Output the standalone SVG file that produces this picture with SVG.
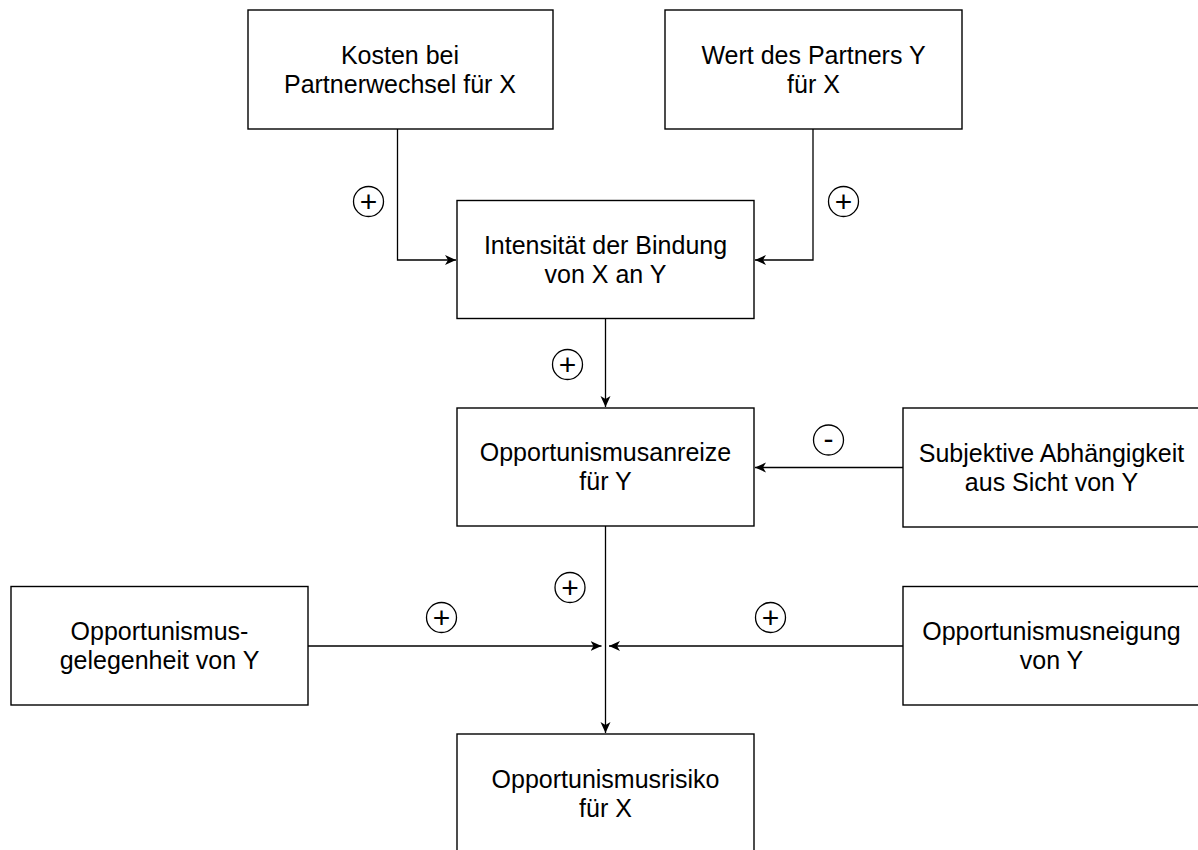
<svg xmlns="http://www.w3.org/2000/svg" width="1198" height="850" viewBox="0 0 1198 850">
  <style>
    .box { fill: #ffffff; stroke: #000000; stroke-width: 1.4; }
    .lbl { font-family: "Liberation Sans", Arial, sans-serif; font-size: 25px; fill: #000000; text-anchor: middle; }
    .edge { fill: none; stroke: #000000; stroke-width: 1.3; marker-end: url(#arrow); }
    .sign circle { fill: #ffffff; stroke: #000000; stroke-width: 1.3; }
    .sign text { font-family: "Liberation Sans", Arial, sans-serif; font-size: 30px; fill: #000000; text-anchor: middle; }
  </style>
  <defs>
    <marker id="arrow" markerUnits="userSpaceOnUse" markerWidth="14" markerHeight="12" refX="11" refY="5" orient="auto" viewBox="0 0 14 12">
      <path d="M11,5 L0,0 L3,5 L0,10 Z" fill="#000000"/>
    </marker>
  </defs>
  <rect width="1198" height="850" fill="#ffffff"/>

  <!-- connectors -->
  <g id="connectors">
    <path class="edge" d="M397.5,129 V260 H456"/>
    <path class="edge" d="M813,129 V260 H755"/>
    <path class="edge" d="M605.5,318 V407"/>
    <path class="edge" d="M903,467.5 H755"/>
    <path class="edge" d="M605.5,526 V733"/>
    <path class="edge" d="M308,646 H601.5"/>
    <path class="edge" d="M903,646 H609"/>
  </g>

  <!-- polarity markers -->
  <g id="signs" class="sign">
    <g><circle cx="368.5" cy="201.5" r="15"/><text x="368.5" y="211.5">+</text></g>
    <g><circle cx="843.5" cy="201.5" r="15"/><text x="843.5" y="211.5">+</text></g>
    <g><circle cx="567.5" cy="364.5" r="15"/><text x="567.5" y="374.5">+</text></g>
    <g><circle cx="828.5" cy="440" r="15"/><text x="828.5" y="449">-</text></g>
    <g><circle cx="570" cy="587.5" r="15"/><text x="570" y="597.5">+</text></g>
    <g><circle cx="441.5" cy="617.5" r="15"/><text x="441.5" y="627.5">+</text></g>
    <g><circle cx="770.5" cy="617.5" r="15"/><text x="770.5" y="627.5">+</text></g>
  </g>

  <!-- nodes -->
  <g id="kosten">
    <rect class="box" x="248" y="10" width="305" height="119"/>
    <text class="lbl" x="400" y="63.5">Kosten bei</text>
    <text class="lbl" x="400" y="92.5">Partnerwechsel für X</text>
  </g>
  <g id="wert">
    <rect class="box" x="665" y="10" width="297" height="119"/>
    <text class="lbl" x="813.5" y="63.5">Wert des Partners Y</text>
    <text class="lbl" x="813.5" y="92.5">für X</text>
  </g>
  <g id="intensitaet">
    <rect class="box" x="457" y="200.5" width="297" height="118"/>
    <text class="lbl" x="605.5" y="253.5">Intensität der Bindung</text>
    <text class="lbl" x="605.5" y="282.5">von X an Y</text>
  </g>
  <g id="anreize">
    <rect class="box" x="457" y="408" width="297" height="118"/>
    <text class="lbl" x="605.5" y="461">Opportunismusanreize</text>
    <text class="lbl" x="605.5" y="490">für Y</text>
  </g>
  <g id="abhaengigkeit">
    <rect class="box" x="903" y="408" width="297" height="119"/>
    <text class="lbl" x="1051.5" y="461.5">Subjektive Abhängigkeit</text>
    <text class="lbl" x="1051.5" y="490.5">aus Sicht von Y</text>
  </g>
  <g id="gelegenheit">
    <rect class="box" x="11" y="586.5" width="297" height="118.5"/>
    <text class="lbl" x="159.5" y="640">Opportunismus-</text>
    <text class="lbl" x="159.5" y="669">gelegenheit von Y</text>
  </g>
  <g id="neigung">
    <rect class="box" x="903" y="586.5" width="297" height="118.5"/>
    <text class="lbl" x="1051.5" y="640">Opportunismusneigung</text>
    <text class="lbl" x="1051.5" y="669">von Y</text>
  </g>
  <g id="risiko">
    <rect class="box" x="457" y="734" width="297" height="120"/>
    <text class="lbl" x="605.5" y="787.5">Opportunismusrisiko</text>
    <text class="lbl" x="605.5" y="816.5">für X</text>
  </g>
</svg>
